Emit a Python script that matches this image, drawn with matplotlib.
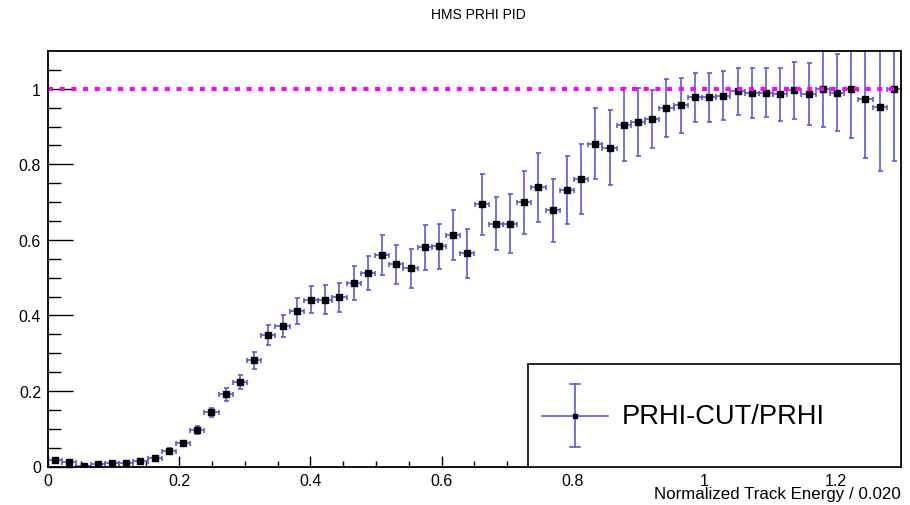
import numpy as np
import matplotlib
matplotlib.use("Agg")
import matplotlib.pyplot as plt
from matplotlib.patches import Rectangle
from matplotlib.lines import Line2D

plt.rcParams['font.family'] = ['Liberation Sans', 'DejaVu Sans']

# 60 bins between 0 and 1.3 in normalized track energy
x_lo, x_hi, n_bins = 0.0, 1.3, 60

efficiency = [0.017, 0.012, 0.002, 0.006, 0.008, 0.009, 0.015, 0.022, 0.042, 0.062,
              0.096, 0.143, 0.191, 0.223, 0.281, 0.348, 0.371, 0.411, 0.442, 0.442,
              0.448, 0.487, 0.511, 0.559, 0.535, 0.525, 0.580, 0.583, 0.614, 0.564,
              0.694, 0.643, 0.643, 0.699, 0.739, 0.678, 0.731, 0.762, 0.855, 0.844,
              0.905, 0.911, 0.921, 0.949, 0.956, 0.977, 0.977, 0.982, 0.993, 0.988,
              0.990, 0.985, 0.996, 0.987, 1.000, 0.990, 1.000, 0.974, 0.953, 1.000]

eff_error = [0.004, 0.004, 0.003, 0.003, 0.003, 0.003, 0.004, 0.005, 0.006, 0.006,
             0.010, 0.012, 0.017, 0.019, 0.022, 0.027, 0.029, 0.034, 0.036, 0.039,
             0.038, 0.045, 0.045, 0.053, 0.052, 0.052, 0.059, 0.060, 0.066, 0.065,
             0.081, 0.070, 0.078, 0.083, 0.092, 0.084, 0.090, 0.093, 0.093, 0.100,
             0.096, 0.090, 0.077, 0.077, 0.073, 0.066, 0.066, 0.065, 0.062, 0.066,
             0.065, 0.071, 0.075, 0.082, 0.100, 0.103, 0.130, 0.158, 0.172, 0.190]

reference_level = 1.0
x_ticks = [0, 0.2, 0.4, 0.6, 0.8, 1, 1.2]
x_tick_labels = ['0', '0.2', '0.4', '0.6', '0.8', '1', '1.2']
y_ticks = [0, 0.2, 0.4, 0.6, 0.8, 1]
y_tick_labels = ['0', '0.2', '0.4', '0.6', '0.8', '1']

edges = np.linspace(x_lo, x_hi, n_bins + 1)
centers = 0.5 * (edges[:-1] + edges[1:])
half_width = 0.5 * np.diff(edges)

W, H = 910, 506
fig = plt.figure(figsize=(W / 100, H / 100), dpi=100)
L, R, T, B = 48, 901, 52, 467.5
ax = fig.add_axes([L / W, 1 - B / H, (R - L) / W, (B - T) / H])

err_color = '#5a5ae0'
ax.errorbar(centers, efficiency, yerr=eff_error, xerr=half_width,
            fmt='s', color=err_color, ecolor=err_color, elinewidth=1.2,
            capsize=1.8, capthick=1.2, markersize=4.3,
            markerfacecolor='black', markeredgecolor='black', zorder=3)

ax.axhline(reference_level, color='#ff00ff', lw=2.9, zorder=4,
           dashes=(1.25, 1.65), solid_capstyle='butt', dash_capstyle='butt')

ax.set_xlim(x_lo, x_hi)
ax.set_ylim(0, 1.1)

ax.set_xticks(x_ticks)
ax.set_xticklabels(x_tick_labels)
ax.set_yticks(y_ticks)
ax.set_yticklabels(y_tick_labels)
ax.set_xticks(np.arange(0, 1.30, 0.05), minor=True)
ax.set_yticks(np.arange(0, 1.10, 0.05), minor=True)

ax.tick_params(axis='x', which='major', direction='in', length=8, width=1,
               labelsize=11.5, pad=4.5, top=False)
ax.tick_params(axis='x', which='minor', direction='in', length=4.3, width=1, top=False)
ax.tick_params(axis='y', which='major', direction='in', length=18, width=1,
               labelsize=11.5, pad=5, right=False)
ax.tick_params(axis='y', which='minor', direction='in', length=9, width=1, right=False)

for sp in ax.spines.values():
    sp.set_linewidth(1.3)
    sp.set_zorder(6)

# legend box in the lower right corner
def to_ax(px, py):
    return (px - L) / (R - L), (B - py) / (B - T)

bx0, by0 = to_ax(528, B)
bx1, by1 = to_ax(R, 365)
ax.add_patch(Rectangle((bx0, by0), bx1 - bx0, by1 - by0, transform=ax.transAxes,
                       facecolor='white', edgecolor='black', lw=1.2, zorder=7))
cx, cy = to_ax(575, 417)
hx0, _ = to_ax(542, 417)
hx1, _ = to_ax(608, 417)
_, vy0 = to_ax(575, 448)
_, vy1 = to_ax(575, 385)
capw = (5 / (R - L))
ax.add_line(Line2D([hx0, hx1], [cy, cy], transform=ax.transAxes, color=err_color, lw=1.2, zorder=8))
ax.add_line(Line2D([cx, cx], [vy0, vy1], transform=ax.transAxes, color=err_color, lw=1.2, zorder=8))
for vy in (vy0, vy1):
    ax.add_line(Line2D([cx - capw, cx + capw], [vy, vy], transform=ax.transAxes,
                       color=err_color, lw=1.2, zorder=8))
ax.add_line(Line2D([cx], [cy], transform=ax.transAxes, marker='s', markersize=3,
                   color='black', zorder=9))
tx, _ = to_ax(622, 417)
ax.text(tx, cy, 'PRHI-CUT/PRHI', transform=ax.transAxes, fontsize=19.6,
        ha='left', va='center', zorder=9)

fig.text(478 / W, 1 - 15 / H, 'HMS PRHI PID', ha='center', va='center', fontsize=10)
fig.text(R / W, 1 - 495 / H, 'Normalized Track Energy / 0.020', ha='right',
         va='center', fontsize=12.2)

fig.savefig('out.png', dpi=100)
